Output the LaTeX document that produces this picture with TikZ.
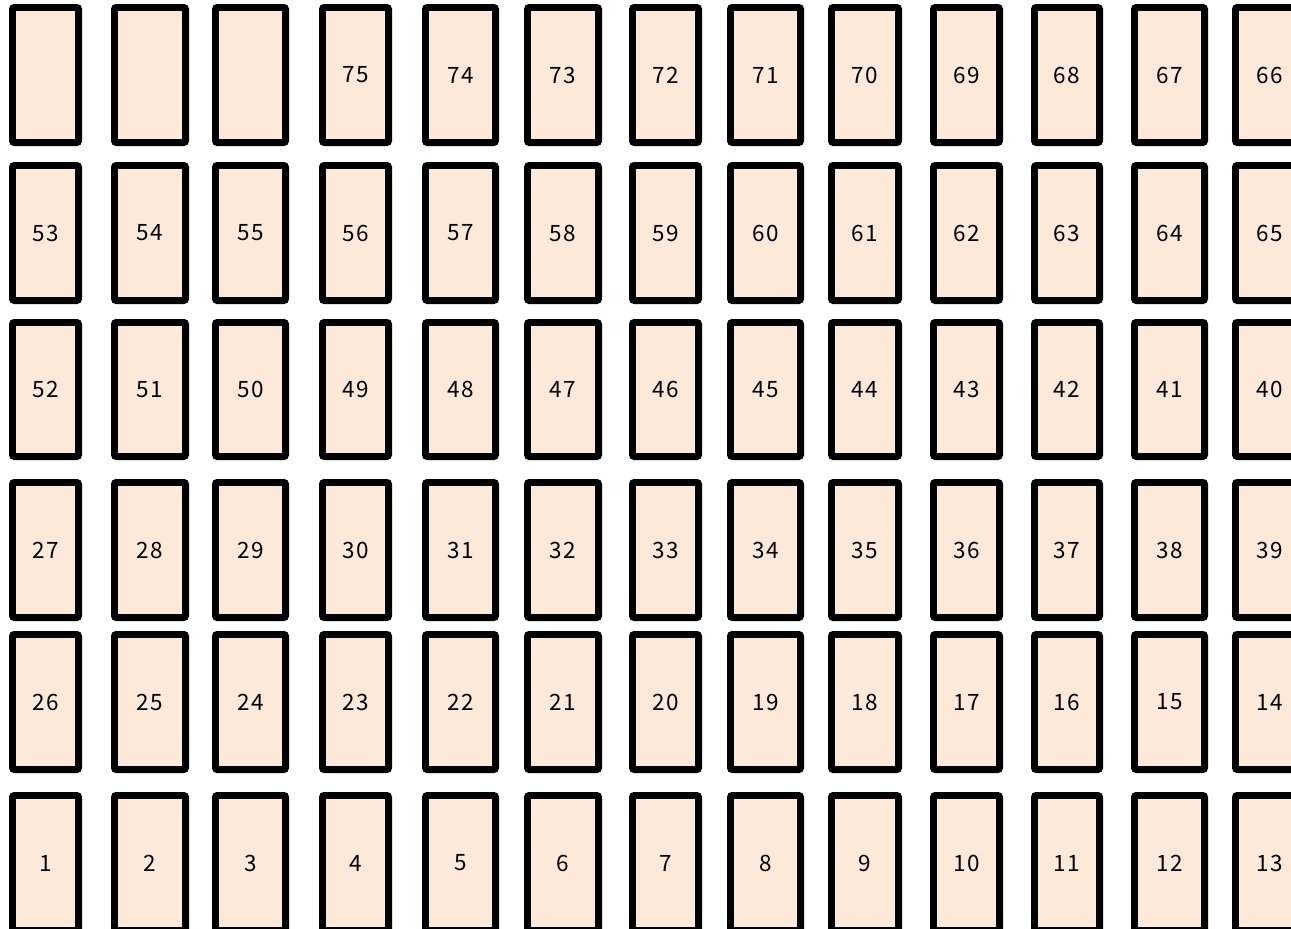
\documentclass[tikz,border=0pt]{standalone}
\usepackage{fontspec}
\newfontfamily\labelfont[LetterSpace=8]{Noto Sans CJK JP}
\definecolor{cellfill}{RGB}{253,233,218}
\begin{document}
\begin{tikzpicture}[x=1pt,y=-1pt,
  cell/.style={draw=black,fill=cellfill,line width=6.8pt,rounded corners=2pt,
    inner sep=0pt,outer sep=0pt,font=\labelfont\fontsize{22.5}{26}\selectfont}]
\useasboundingbox (0,0) rectangle (1291,929);
% columns: centre x / outer width
\def\cols{45.5/73,150/78,250.5/77,355.5/73,460.5/77,563/78,665.5/73,765.5/77,865/74,966.5/73,1067/72,1169.5/77,1269.5/75}
% rows: centre y / outer height / labels
\foreach \r/\y/\h/\labs in {
  1/75/142/{{},{},{},75,74,73,72,71,70,69,68,67,66},
  2/233/142/{53,54,55,56,57,58,59,60,61,62,63,64,65},
  3/389.5/141/{52,51,50,49,48,47,46,45,44,43,42,41,40},
  4/550/142/{27,28,29,30,31,32,33,34,35,36,37,38,39},
  5/702/142/{26,25,24,23,22,21,20,19,18,17,16,15,14},
  6/863/142/{1,2,3,4,5,6,7,8,9,10,11,12,13}}{
  \foreach \x/\w [count=\c] in \cols {
    \pgfmathsetmacro{\lab}{{\labs}[\c-1]}
    \node[cell,minimum width=\w pt-6.8pt,minimum height=\h pt-6.8pt]
      (b-\r-\c) at (\x,\y) {\lab};
  }
}
\end{tikzpicture}
\end{document}
